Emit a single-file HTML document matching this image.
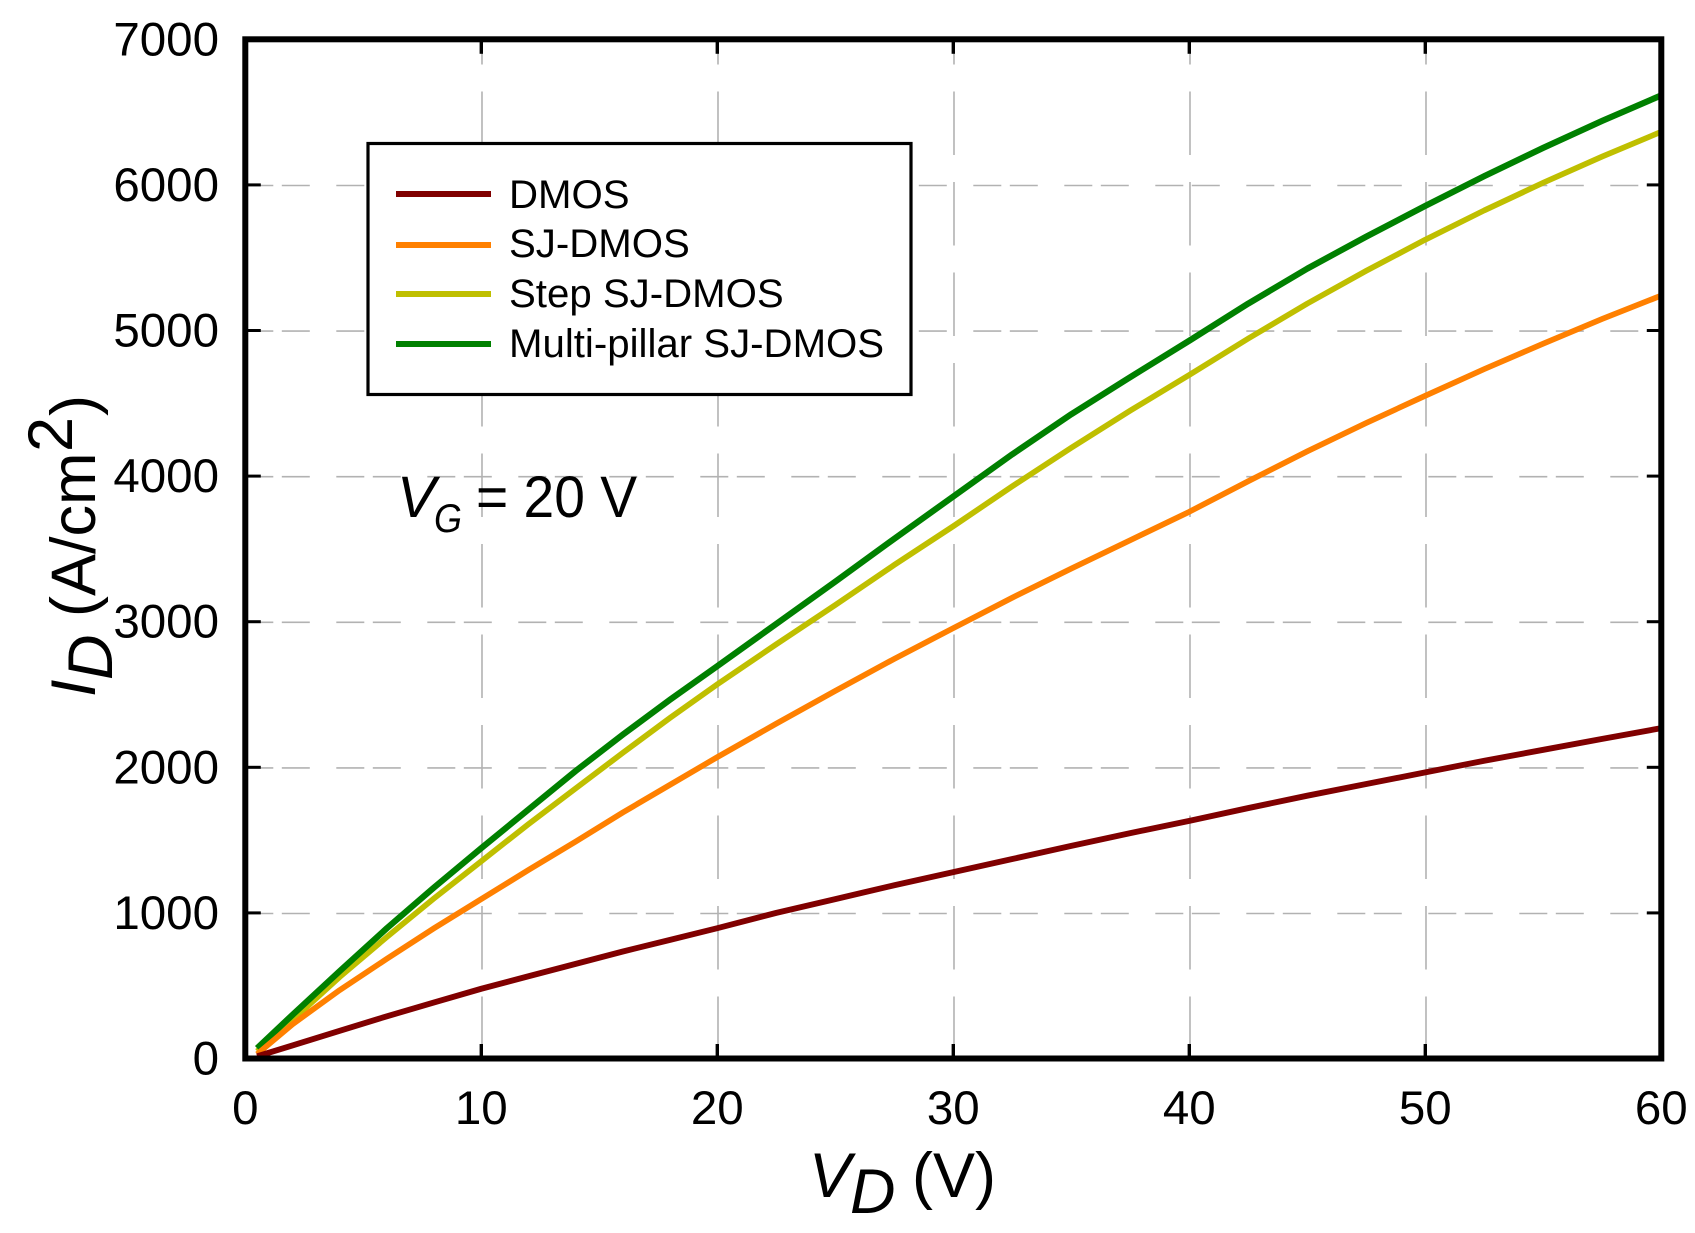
<!DOCTYPE html>
<html>
<head>
<meta charset="utf-8">
<title>ID-VD characteristics</title>
<style>
html,body{margin:0;padding:0;background:#fff;}
svg{display:block;}
text{font-family:"Liberation Sans",Arial,sans-serif;fill:#000;}
</style>
</head>
<body>
<svg id="chart" width="1695" height="1233" viewBox="0 0 1695 1233" xmlns="http://www.w3.org/2000/svg">
<rect x="0" y="0" width="1695" height="1233" fill="#fff"/>
<g id="grid"></g>
<g id="series"></g>
<rect x="245.3" y="39.3" width="1416" height="1019.2" fill="none" stroke="#000" stroke-width="6"/>
<g id="ticks"></g>
<g id="labels"></g>

<g>
<rect x="368" y="143.5" width="543" height="251" fill="#fff" stroke="#000" stroke-width="3.2"/>
<line x1="396" y1="194" x2="491" y2="194" stroke="#800000" stroke-width="6"/>
<line x1="396" y1="245" x2="491" y2="245" stroke="#ff8000" stroke-width="6"/>
<line x1="396" y1="294" x2="491" y2="294" stroke="#bfbf00" stroke-width="6"/>
<line x1="396" y1="344" x2="491" y2="344" stroke="#008000" stroke-width="6"/>
<text x="509" y="208" font-size="40.2">DMOS</text>
<text x="509" y="257" font-size="40.2">SJ-DMOS</text>
<text x="509" y="307" font-size="40.2">Step SJ-DMOS</text>
<text x="509" y="357" font-size="40.2">Multi-pillar SJ-DMOS</text>
</g>

<g>
<text x="397" y="517" font-size="58" font-style="italic">V</text>
<text x="434" y="532" font-size="40" font-style="italic" textLength="28" lengthAdjust="spacingAndGlyphs">G</text>
<text x="476" y="517" font-size="58" textLength="161" lengthAdjust="spacingAndGlyphs">= 20 V</text>
</g>

<g>
<text x="809" y="1197" font-size="63" font-style="italic">V</text>
<text x="850" y="1213" font-size="63" font-style="italic">D</text>
<text x="912" y="1197" font-size="63">(V)</text>
</g>

<g>
<text transform="translate(95 697) rotate(-90)" font-size="63" font-style="italic">I</text>
<text transform="translate(112 680) rotate(-90)" font-size="63" font-style="italic">D</text>
<text transform="translate(95 617) rotate(-90)" font-size="63">(A/cm</text>
<text transform="translate(72 452) rotate(-90)" font-size="63">2</text>
<text transform="translate(95 416) rotate(-90)" font-size="63">)</text>
</g>
</svg>

<script>
const xTicks = [0, 10, 20, 30, 40, 50, 60];
const yTicks = [0, 1000, 2000, 3000, 4000, 5000, 6000, 7000];
const voltages = [0.5, 2, 4, 6, 8, 10, 12, 14, 16, 18, 20, 22.5, 25, 27.5, 30, 32.5, 35, 37.5, 40, 42.5, 45, 47.5, 50, 52.5, 55, 57.5, 60];
const dmos = [15, 90, 190, 290, 385, 479, 565, 650, 735, 815, 895, 1000, 1095, 1190, 1280, 1370, 1460, 1548, 1632, 1720, 1805, 1885, 1965, 2045, 2120, 2195, 2269];
const sjDmos = [30, 235, 470, 685, 895, 1095, 1295, 1490, 1690, 1880, 2070, 2300, 2525, 2745, 2956, 3165, 3365, 3560, 3755, 3965, 4170, 4365, 4552, 4735, 4910, 5080, 5240];
const stepSjDmos = [50, 265, 560, 835, 1100, 1355, 1610, 1855, 2100, 2340, 2570, 2845, 3115, 3390, 3656, 3930, 4195, 4450, 4695, 4945, 5185, 5410, 5624, 5825, 6015, 6195, 6365];
const multiPillarSjDmos = [70, 300, 600, 895, 1175, 1445, 1710, 1975, 2225, 2465, 2695, 2985, 3275, 3570, 3860, 4150, 4425, 4680, 4930, 5185, 5425, 5645, 5856, 6060, 6255, 6440, 6615];

const NS = 'http://www.w3.org/2000/svg';
const left = 245.3, right = 1661.3, top_ = 39.3, bottom = 1058.5;
const xMax = 60, yMax = 7000;
function xScale(v) { return left + (v / xMax) * (right - left); }
function yScale(v) { return bottom - (v / yMax) * (bottom - top_); }

const grid = document.getElementById('grid');
const ticks = document.getElementById('ticks');
const labels = document.getElementById('labels');
const seriesGroup = document.getElementById('series');

yTicks.forEach(function (t) {
  const y = yScale(t);
  if (t > 0 && t < yMax) {
    const g = document.createElementNS(NS, 'line');
    
    
    g.setAttribute('x1', left);
    g.setAttribute('x2', right);
    g.setAttribute('y1', y + 0.6);
    g.setAttribute('y2', y + 0.6);
    g.setAttribute('stroke', '#b2b2b2');
    g.setAttribute('stroke-width', '1.6');
    g.setAttribute('stroke-dasharray', '28 8.5 28 26.5');
    grid.appendChild(g);
    const tl = document.createElementNS(NS, 'line');
    
    
    tl.setAttribute('x1', left);
    tl.setAttribute('x2', left + 15.5);
    tl.setAttribute('y1', y);
    tl.setAttribute('y2', y);
    tl.setAttribute('stroke', '#000');
    tl.setAttribute('stroke-width', '3');
    ticks.appendChild(tl);
    const tr = document.createElementNS(NS, 'line');
    
    
    tr.setAttribute('x1', right - 14.5);
    tr.setAttribute('x2', right);
    tr.setAttribute('y1', y);
    tr.setAttribute('y2', y);
    tr.setAttribute('stroke', '#000');
    tr.setAttribute('stroke-width', '3');
    ticks.appendChild(tr);
  }
  const lab = document.createElementNS(NS, 'text');
  
  
  lab.setAttribute('x', 219);
  lab.setAttribute('y', y + 16);
  lab.setAttribute('font-size', '47.5');
  lab.setAttribute('text-anchor', 'end');
  lab.textContent = t;
  labels.appendChild(lab);
});

xTicks.forEach(function (t) {
  const x = xScale(t);
  if (t > 0 && t < xMax) {
    const g = document.createElementNS(NS, 'line');
    
    
    g.setAttribute('x1', x + 0.7);
    g.setAttribute('x2', x + 0.7);
    g.setAttribute('y1', top_);
    g.setAttribute('y2', bottom);
    g.setAttribute('stroke', '#b2b2b2');
    g.setAttribute('stroke-width', '1.6');
    g.setAttribute('stroke-dasharray', '63.5 27');
    g.setAttribute('stroke-dashoffset', '38.3');
    grid.appendChild(g);
    const tt = document.createElementNS(NS, 'line');
    
    
    tt.setAttribute('x1', x);
    tt.setAttribute('x2', x);
    tt.setAttribute('y1', top_);
    tt.setAttribute('y2', top_ + 14.5);
    tt.setAttribute('stroke', '#000');
    tt.setAttribute('stroke-width', '3.4');
    ticks.appendChild(tt);
    const tb = document.createElementNS(NS, 'line');
    
    
    tb.setAttribute('x1', x);
    tb.setAttribute('x2', x);
    tb.setAttribute('y1', bottom - 14.5);
    tb.setAttribute('y2', bottom);
    tb.setAttribute('stroke', '#000');
    tb.setAttribute('stroke-width', '3.4');
    ticks.appendChild(tb);
  }
  const lab = document.createElementNS(NS, 'text');
  
  
  lab.setAttribute('x', x);
  lab.setAttribute('y', 1124);
  lab.setAttribute('font-size', '47.5');
  lab.setAttribute('text-anchor', 'middle');
  lab.textContent = t;
  labels.appendChild(lab);
});

function pathFor(values) {
  return values.map(function (v, i) {
    return (i ? 'L' : 'M') + xScale(voltages[i]).toFixed(2) + ' ' + yScale(v).toFixed(2);
  }).join(' ');
}

const yellowPath = document.createElementNS(NS, 'path');


yellowPath.setAttribute('d', pathFor(stepSjDmos));
yellowPath.setAttribute('fill', 'none');
yellowPath.setAttribute('stroke', '#bfbf00');
yellowPath.setAttribute('stroke-width', '5.7');
yellowPath.setAttribute('stroke-linejoin', 'round');
seriesGroup.appendChild(yellowPath);

const greenPath = document.createElementNS(NS, 'path');


greenPath.setAttribute('d', pathFor(multiPillarSjDmos));
greenPath.setAttribute('fill', 'none');
greenPath.setAttribute('stroke', '#008000');
greenPath.setAttribute('stroke-width', '6.2');
greenPath.setAttribute('stroke-linejoin', 'round');
seriesGroup.appendChild(greenPath);

const orangePath = document.createElementNS(NS, 'path');


orangePath.setAttribute('d', pathFor(sjDmos));
orangePath.setAttribute('fill', 'none');
orangePath.setAttribute('stroke', '#ff8000');
orangePath.setAttribute('stroke-width', '5.7');
orangePath.setAttribute('stroke-linejoin', 'round');
seriesGroup.appendChild(orangePath);

const redPath = document.createElementNS(NS, 'path');


redPath.setAttribute('d', pathFor(dmos));
redPath.setAttribute('fill', 'none');
redPath.setAttribute('stroke', '#800000');
redPath.setAttribute('stroke-width', '5.9');
redPath.setAttribute('stroke-linejoin', 'round');
seriesGroup.appendChild(redPath);
</script>
</body>
</html>
